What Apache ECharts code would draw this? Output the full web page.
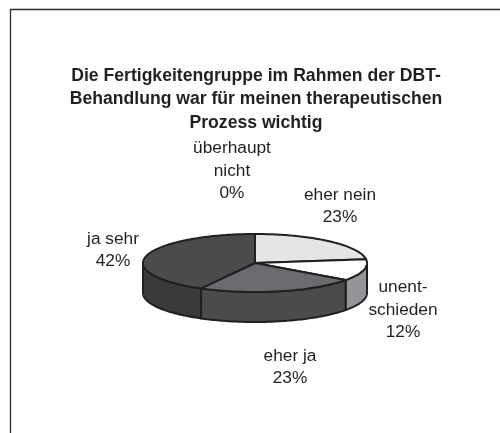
<!DOCTYPE html>
<html><head><meta charset="utf-8">
<style>html,body{margin:0;padding:0;background:#fff}#c{width:500px;height:433px}</style>
<script src="https://cdn.jsdelivr.net/npm/echarts@6/dist/echarts.min.js"></script>
</head><body><div id="c"></div>
<script>
const categories = ['eher nein', 'unentschieden', 'eher ja', 'ja sehr', 'überhaupt nicht'];
const values = [23, 12, 23, 42, 0];
const labelTexts = ['eher nein\n23%', 'unent-\nschieden\n12%', 'eher ja\n23%', 'ja sehr\n42%', 'überhaupt\nnicht\n0%'];
const topColors = ['#e4e5e6', '#ffffff', '#6a6b6e', '#4a4b4d', '#ffffff'];
const sideColors = ['#b0b1b3', '#939598', '#4a4b4d', '#3a3a3c', '#ffffff'];
const titleText = 'Die Fertigkeitengruppe im Rahmen der DBT-\nBehandlung war für meinen therapeutischen\nProzess wichtig';

const labelAnchors = [[340, 206], [403, 310], [290, 367], [113, 250], [232, 171]];
const geo = {cx: 255, cy: 263, a: 112, b: 29, depth: 30};
const ink = '#231f20';
const total = values.reduce((s, v) => s + v, 0);
const pt = (t, dy) => [geo.cx + geo.a * Math.sin(t), geo.cy - geo.b * Math.cos(t) + (dy || 0)];
const arc = (t0, t1, dy) => {
  const n = Math.max(2, Math.ceil(Math.abs(t1 - t0) / 0.02)), r = [];
  for (let i = 0; i <= n; i++) r.push(pt(t0 + (t1 - t0) * i / n, dy));
  return r;
};

const chart = echarts.init(document.getElementById('c'), null, {renderer: 'canvas'});
chart.setOption({
  animation: false,
  backgroundColor: '#fff',
  title: {
    text: titleText, left: 251, top: 59, textAlign: 'center',
    textStyle: {fontFamily: 'Liberation Sans', fontSize: 17.6, fontWeight: 'bold', color: ink, lineHeight: 23.5}
  },
  graphic: [
    {type: 'polyline', shape: {points: [[10.5, 433], [10.5, 9.5], [500, 9.5]]}, style: {stroke: '#2e2e2e', lineWidth: 1.3, fill: null}, silent: true},
    ...labelTexts.map((t, i) => ({
      type: 'text', x: labelAnchors[i][0], y: labelAnchors[i][1],
      style: {text: t, fill: ink, font: '17.3px "Liberation Sans"', align: 'center', verticalAlign: 'middle', lineHeight: 22.3}
    }))
  ],
  series: [{
    type: 'custom',
    coordinateSystem: 'none',
    data: values.map((v, i) => ({name: categories[i], value: [v, i]})),
    renderItem(params, api) {
      const v = api.value(0), i = api.value(1);
      if (!v) return {type: 'group', children: []};
      const before = values.slice(0, i).reduce((s, x) => s + x, 0);
      const t0 = before / total * 2 * Math.PI, t1 = (before + v) / total * 2 * Math.PI;
      const children = [];
      const s0 = Math.max(t0, Math.PI / 2), s1 = Math.min(t1, Math.PI * 1.5);
      if (s1 > s0) {
        children.push({type: 'polygon', z2: 1,
          shape: {points: arc(s0, s1, 0).concat(arc(s1, s0, geo.depth))},
          style: {fill: sideColors[i], stroke: ink, lineWidth: 2, lineJoin: 'round'}});
      }
      children.push({type: 'polygon', z2: 2,
        shape: {points: [[geo.cx, geo.cy]].concat(arc(t0, t1, 0))},
        style: {fill: topColors[i], stroke: ink, lineWidth: 2, lineJoin: 'round'}});
      return {type: 'group', children};
    }
  }]
});
</script></body></html>
